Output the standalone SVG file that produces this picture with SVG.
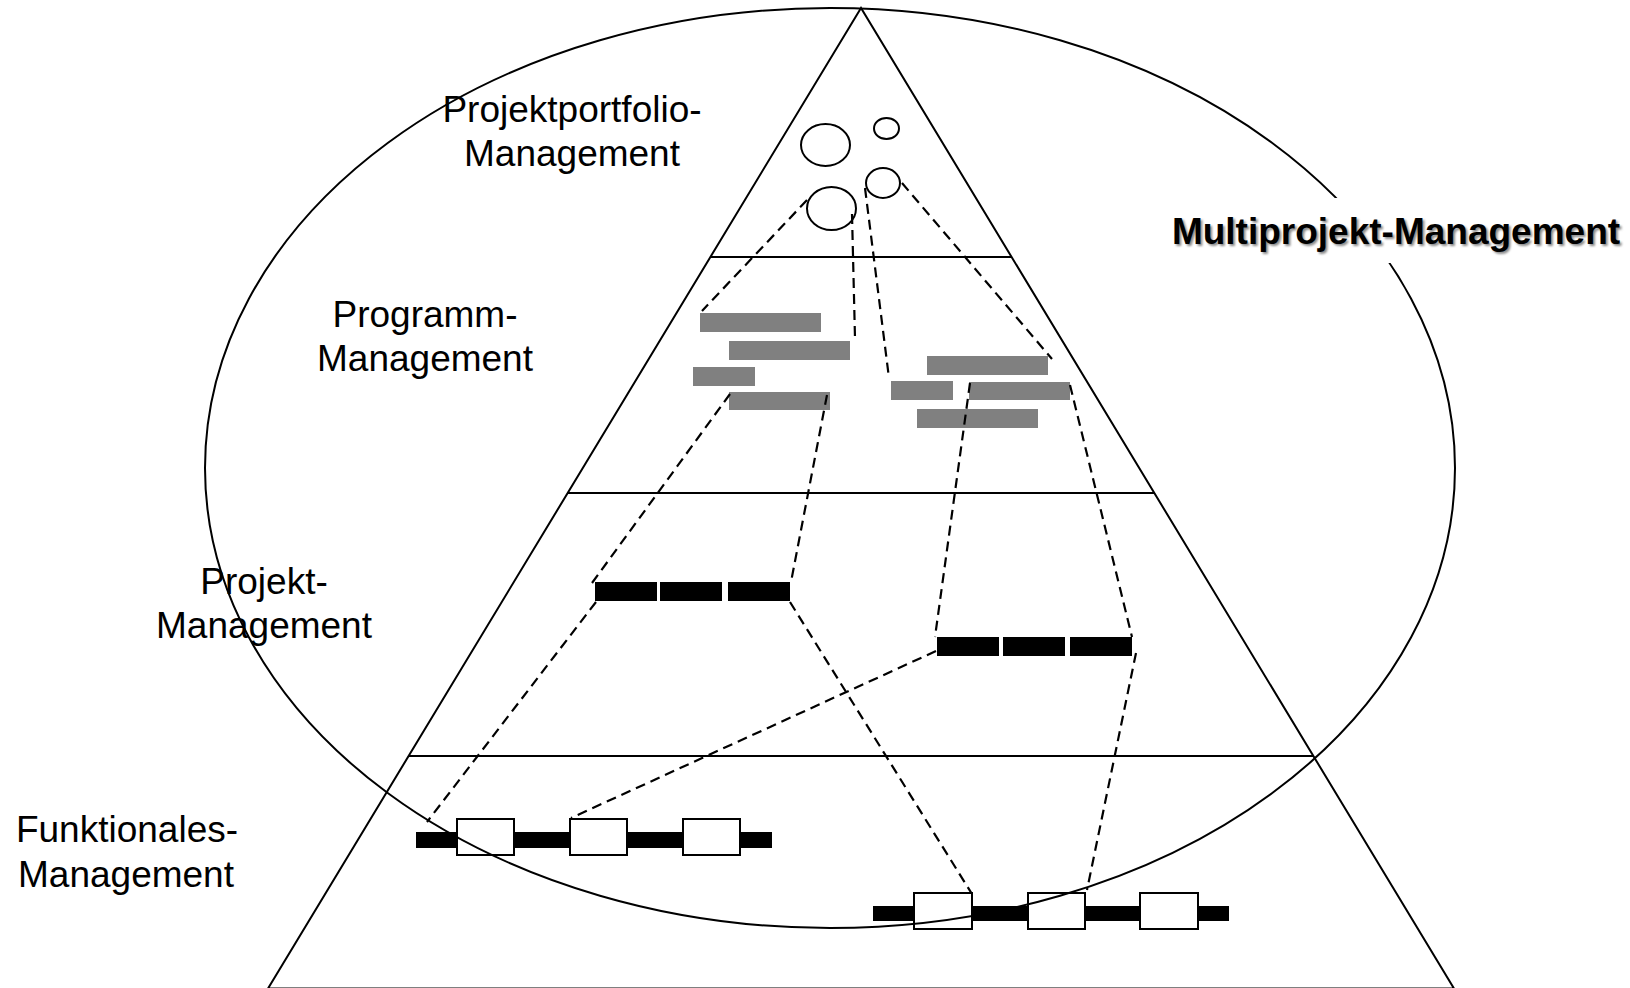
<svg xmlns="http://www.w3.org/2000/svg" width="1630" height="988" viewBox="0 0 1630 988">
  <style>
    .solid { fill: none; stroke: #000; stroke-width: 2; }
    .dash { fill: none; stroke: #000; stroke-width: 2.2; stroke-dasharray: 10 6; }
    .prog { fill: #808080; }
    .proj { fill: #000; }
    .box { fill: #fff; stroke: #000; stroke-width: 2; }
    .label { font-family: "Liberation Sans", Arial, sans-serif; font-size: 37px; fill: #000; text-anchor: middle; }
    .title { font-family: "Liberation Sans", Arial, sans-serif; font-size: 37px; font-weight: bold; text-anchor: middle; }
  </style>
  <defs>
    <filter id="soft" x="-5%" y="-20%" width="110%" height="140%">
      <feGaussianBlur stdDeviation="0.8"/>
    </filter>
  </defs>
  <rect width="1630" height="988" fill="#fff"/>

  <!-- pyramid with its level dividers -->
  <g id="pyramid">
    <path class="solid" d="M861 8 L268 988.5 L1454 988.5 Z"/>
    <line class="solid" x1="710" y1="257" x2="1012" y2="257"/>
    <line class="solid" x1="567" y1="493" x2="1155" y2="493"/>
    <line class="solid" x1="408" y1="756" x2="1314" y2="756"/>
  </g>

  <!-- portfolio level: projects as circles -->
  <g id="portfolio">
    <ellipse class="solid" cx="825.5" cy="145" rx="24.5" ry="21"/>
    <ellipse class="solid" cx="886.5" cy="128.5" rx="12.5" ry="10.5"/>
    <ellipse class="solid" cx="883" cy="183" rx="17" ry="15"/>
    <ellipse class="solid" cx="831.5" cy="208.5" rx="24.5" ry="21.5"/>
  </g>

  <!-- programme level: two programmes of grey bars -->
  <g id="programm-links">
    <rect class="prog" x="700" y="313" width="121" height="19"/>
    <rect class="prog" x="729" y="341" width="121" height="19"/>
    <rect class="prog" x="693" y="367" width="62" height="19"/>
    <rect class="prog" x="729" y="392" width="101" height="18"/>
  </g>
  <g id="programm-rechts">
    <rect class="prog" x="927" y="356" width="121" height="19"/>
    <rect class="prog" x="891" y="381" width="62" height="19"/>
    <rect class="prog" x="969" y="382" width="101" height="18"/>
    <rect class="prog" x="917" y="409" width="121" height="19"/>
  </g>

  <!-- project level: phase bars -->
  <g id="projekt-links">
    <rect class="proj" x="595" y="582" width="62" height="19"/>
    <rect class="proj" x="660" y="582" width="62" height="19"/>
    <rect class="proj" x="728" y="582" width="62" height="19"/>
  </g>
  <g id="projekt-rechts">
    <rect class="proj" x="937" y="637" width="62" height="19"/>
    <rect class="proj" x="1003" y="637" width="62" height="19"/>
    <rect class="proj" x="1070" y="637" width="62" height="19"/>
  </g>

  <!-- dashed drill-down connectors between levels -->
  <g id="connectors">
    <line class="dash" x1="807" y1="200" x2="702" y2="311"/>
    <line class="dash" x1="852" y1="214" x2="855" y2="338"/>
    <line class="dash" x1="865" y1="188" x2="889" y2="378"/>
    <line class="dash" x1="902" y1="183" x2="1052" y2="359"/>
    <line class="dash" x1="730" y1="394" x2="592" y2="583"/>
    <line class="dash" x1="827" y1="395" x2="791" y2="582"/>
    <line class="dash" x1="970" y1="383" x2="935" y2="637"/>
    <line class="dash" x1="1070" y1="385" x2="1132" y2="637"/>
    <line class="dash" x1="596" y1="602" x2="427" y2="822"/>
    <line class="dash" x1="936" y1="651" x2="571" y2="818"/>
    <line class="dash" x1="790" y1="602" x2="972" y2="894"/>
    <line class="dash" x1="1136" y1="653" x2="1087" y2="890"/>
  </g>

  <!-- functional level: resource lines with work packages -->
  <g id="funktion-links">
    <rect class="proj" x="416" y="832" width="356" height="16"/>
    <rect class="box" x="457" y="819" width="57" height="36"/>
    <rect class="box" x="570" y="819" width="57" height="36"/>
    <rect class="box" x="683" y="819" width="57" height="36"/>
  </g>
  <g id="funktion-rechts">
    <rect class="proj" x="873" y="906" width="356" height="15"/>
    <rect class="box" x="914" y="893" width="58" height="36"/>
    <rect class="box" x="1028" y="893" width="57" height="36"/>
    <rect class="box" x="1140" y="893" width="58" height="36"/>
  </g>

  <!-- level labels -->
  <g id="label-portfolio">
    <text class="label" x="572" y="122">Projektportfolio-</text>
    <text class="label" x="572" y="166">Management</text>
  </g>
  <g id="label-programm">
    <text class="label" x="425" y="327">Programm-</text>
    <text class="label" x="425" y="371">Management</text>
  </g>
  <g id="label-projekt">
    <text class="label" x="264" y="594">Projekt-</text>
    <text class="label" x="264" y="638">Management</text>
  </g>
  <g id="label-funktion">
    <text class="label" x="127" y="842">Funktionales-</text>
    <text class="label" x="126" y="887">Management</text>
  </g>

  <!-- multi-project scope -->
  <g id="multiprojekt">
    <ellipse class="solid" cx="830" cy="468" rx="625" ry="460"/>
    <rect x="1170" y="198" width="458" height="65" fill="#fff"/>
    <text class="title" x="1398" y="246" fill="#8a8a8a" filter="url(#soft)">Multiprojekt-Management</text>
    <text class="title" x="1396" y="244" fill="#000">Multiprojekt-Management</text>
  </g>
</svg>
